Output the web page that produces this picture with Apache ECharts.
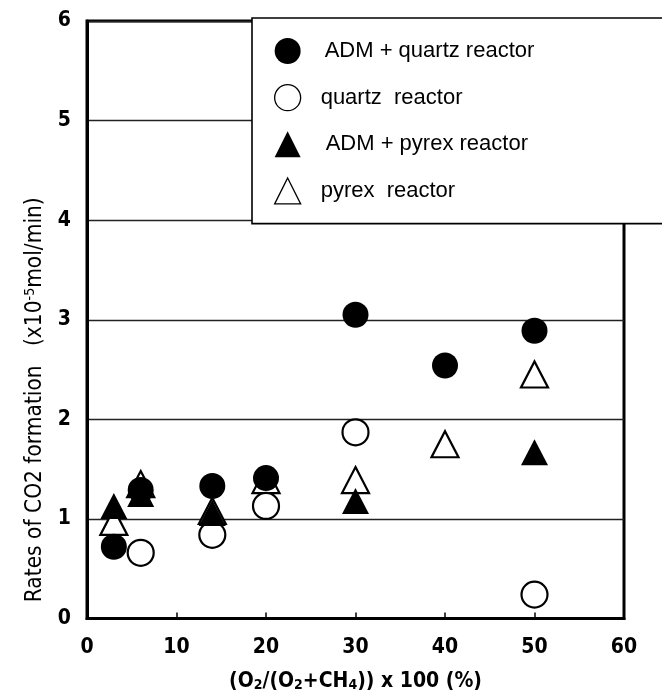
<!DOCTYPE html>
<html>
<head>
<meta charset="utf-8">
<script src="https://cdn.jsdelivr.net/npm/echarts@6/dist/echarts.min.js"></script>
<style>
  html, body { margin: 0; padding: 0; background: #fff; }
  #chart { width: 662px; height: 691px; }
</style>
</head>
<body>
<div id="chart"></div>
<script>
// O2 share of the feed, (O2/(O2+CH4)) x 100 (%)
const xTicks = [0, 10, 20, 30, 40, 50, 60];
const yTicks = [0, 1, 2, 3, 4, 5, 6];

// CO2 formation rates (x10^-5 mol/min), one [x, y] pair per measurement
const admQuartz  = [[3, 0.72], [6, 1.29], [14, 1.33], [20, 1.41], [30, 3.05], [40, 2.54], [50, 2.89]];
const quartz     = [[6, 0.66], [14, 0.84], [20, 1.13], [30, 1.87], [50, 0.24]];
const admPyrex   = [[3, 1.13], [6, 1.25], [14, 1.06], [30, 1.18], [50, 1.67]];
const pyrex      = [[3, 0.97], [6, 1.35], [14, 1.08], [20, 1.39], [30, 1.39], [40, 1.75], [50, 2.45]];

const names = {
  admQuartz: 'ADM + quartz reactor',
  quartz: 'quartz  reactor',
  admPyrex: 'ADM + pyrex reactor',
  pyrex: 'pyrex  reactor'
};

const narrow = "'Liberation Sans Narrow', 'DejaVu Sans Condensed', 'Roboto Condensed', sans-serif";
const sans = "'Liberation Sans', Arial, sans-serif";

const chart = echarts.init(document.getElementById('chart'), null, { renderer: 'canvas' });

const filled = { color: '#000', borderColor: '#000', borderWidth: 0, opacity: 1 };
const hollow = { color: '#fff', borderColor: '#000', borderWidth: 2.2, opacity: 1 };

chart.setOption({
  animation: false,
  backgroundColor: '#fff',
  grid: {
    left: 87, right: 38, top: 21, bottom: 72.5,
    outerBoundsMode: 'none',
    containLabel: false,
    show: true, borderColor: '#000', borderWidth: 3, backgroundColor: 'transparent'
  },
  legend: {
    orient: 'vertical',
    left: 252, top: 18,
    padding: [20, 260, 19, 22],
    itemWidth: 26, itemHeight: 26, itemGap: 20,
    backgroundColor: '#fff',
    borderColor: '#000', borderWidth: 1.6, borderRadius: 0,
    textStyle: { fontFamily: sans, fontSize: 22, color: '#000' },
    data: [
      { name: names.admQuartz, icon: 'circle', textStyle: { padding: [0, 0, 0, 19] } },
      { name: names.quartz, icon: 'circle', itemStyle: { borderWidth: 1.3 }, textStyle: { padding: [0, 0, 0, 15] } },
      { name: names.admPyrex, icon: 'triangle', textStyle: { padding: [0, 0, 0, 20] } },
      { name: names.pyrex, icon: 'triangle', itemStyle: { borderWidth: 1.3 }, textStyle: { padding: [0, 0, 0, 15] } }
    ],
    z: 10
  },
  xAxis: {
    type: 'value',
    min: xTicks[0], max: xTicks[xTicks.length - 1], interval: 10,
    axisLine: { show: true, lineStyle: { color: '#000', width: 3 } },
    axisTick: { show: true, inside: true, length: 6, lineStyle: { color: '#000', width: 1.5 } },
    splitLine: { show: false },
    axisLabel: {
      margin: 19, color: '#000', fontFamily: narrow, fontWeight: 'bold', fontSize: 21
    },
    name: '(O{sub|2}/(O{sub|2}+CH{sub|4})) x 100 (%)',
    nameLocation: 'middle',
    nameGap: 52,
    nameTextStyle: {
      color: '#000', fontFamily: narrow, fontWeight: 'bold', fontSize: 21,
      rich: {
        sub: { fontFamily: narrow, fontWeight: 'bold', fontSize: 14, verticalAlign: 'bottom', padding: [8, 0, 0, 0] }
      }
    }
  },
  yAxis: {
    type: 'value',
    min: yTicks[0], max: yTicks[yTicks.length - 1], interval: 1,
    axisLine: { show: true, lineStyle: { color: '#000', width: 3 } },
    axisTick: { show: false },
    splitLine: { show: true, lineStyle: { color: '#222', width: 1.3 } },
    axisLabel: {
      margin: 16, color: '#000', fontFamily: narrow, fontWeight: 'bold', fontSize: 21
    },
    name: 'Rates of CO2 formation   (x10{sup|-5}mol/min)',
    nameLocation: 'middle',
    nameGap: 40,
    nameRotate: 90,
    nameTextStyle: {
      color: '#000', fontFamily: narrow, fontSize: 22.5,
      padding: [0, 160, 0, 0],
      rich: {
        sup: { fontFamily: narrow, fontSize: 14, verticalAlign: 'top', padding: [0, 0, 10, 0] }
      }
    }
  },
  series: [
    {
      name: names.pyrex, type: 'scatter', data: pyrex,
      symbol: 'triangle', symbolSize: [27, 26], itemStyle: hollow, z: 2
    },
    {
      name: names.quartz, type: 'scatter', data: quartz,
      symbol: 'circle', symbolSize: 26, itemStyle: hollow, z: 3
    },
    {
      name: names.admPyrex, type: 'scatter', data: admPyrex,
      symbol: 'triangle', symbolSize: [27, 26], itemStyle: filled, z: 4
    },
    {
      name: names.admQuartz, type: 'scatter', data: admQuartz,
      symbol: 'circle', symbolSize: 26, itemStyle: filled, z: 5
    }
  ]
});
</script>
</body>
</html>
